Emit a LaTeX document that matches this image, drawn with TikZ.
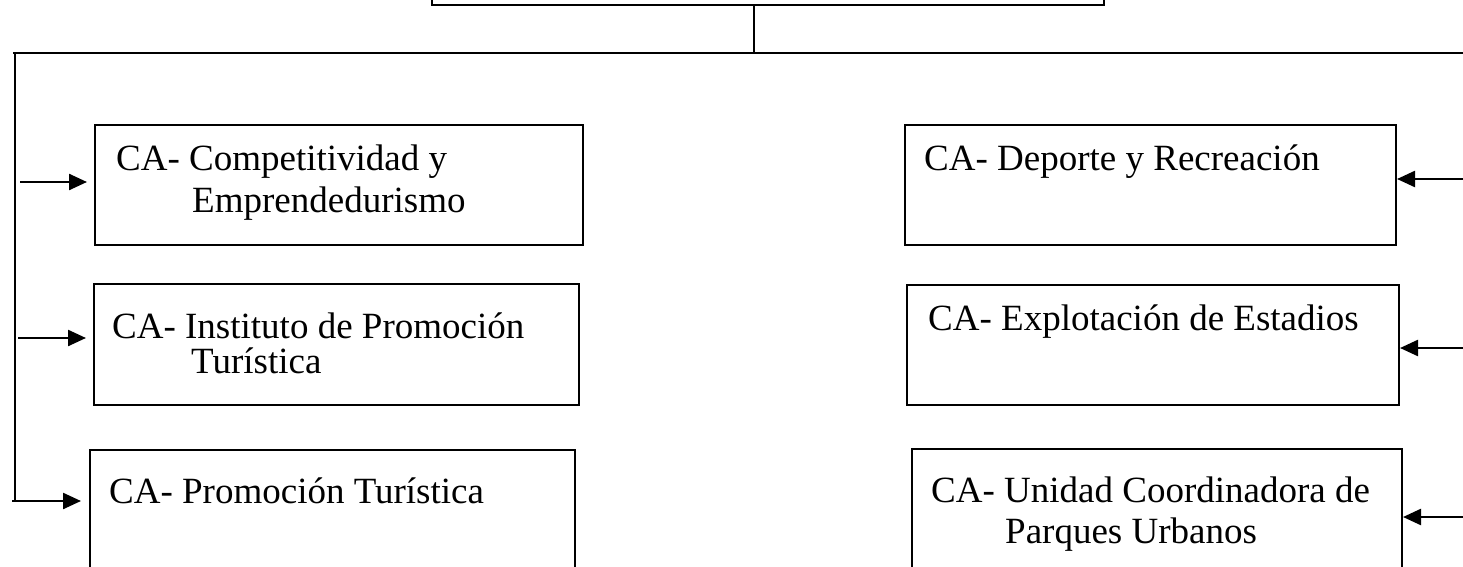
\documentclass[tikz,border=0pt]{standalone}
\usepackage{fontspec}
\setmainfont{Liberation Serif}
\usetikzlibrary{arrows.meta}

\tikzset{
  cabox/.style={draw,line width=2pt,rectangle,inner sep=0pt},
  caline/.style={anchor=base west,inner sep=0pt,font=\fontsize{37}{42}\selectfont},
  feed/.style={line width=2.4pt,-{Triangle[length=18pt,width=16pt]}},
  bus/.style={line width=2.2pt},
}

\begin{document}
\begin{tikzpicture}[x=1pt,y=-1pt]
\clip (0,0) rectangle (1463,567);
\useasboundingbox (0,0) rectangle (1463,567);

% Head box (cut by the top edge)
\node[cabox,minimum width=672pt,minimum height=80pt] (head) at (768,-35) {};

% Bus lines
\coordinate (busL) at (13,53);
\coordinate (busR) at (1475,53);
\coordinate (stem) at (754,53);
\coordinate (trunkL) at (15,501);
\draw[bus] (stem |- head.south) -- (stem);
\draw[bus] (busL) -- (busR);
\draw[bus] (trunkL |- busL) -- (trunkL);

% Left boxes
\node[cabox,minimum width=488pt,minimum height=120pt] (comp) at (339,185) {};
\node[cabox,minimum width=485pt,minimum height=121pt] (inst) at (336.5,344.5) {};
\node[cabox,minimum width=485pt,minimum height=170pt] (prom) at (332.5,535) {};

\node[caline] (comp-a) at (116,170) {CA- Competitividad y};
\node[caline] (comp-b) at (192,212) {Emprendedurismo};
\node[caline] (inst-a) at (112,338) {CA- Instituto de Promoción};
\node[caline] (inst-b) at (191,373) {Turística};
\node[caline] (prom-a) at (109,503) {CA- Promoción Turística};

% Right boxes
\node[cabox,minimum width=491pt,minimum height=120pt] (dep) at (1150.5,185) {};
\node[cabox,minimum width=492pt,minimum height=120pt] (expl) at (1153,345) {};
\node[cabox,minimum width=490pt,minimum height=171pt] (parq) at (1157,534.5) {};

\node[caline] (dep-a) at (924,170) {CA- Deporte y Recreación};
\node[caline] (expl-a) at (928,330) {CA- Explotación de Estadios};
\node[caline] (parq-a) at (931,502) {CA- Unidad Coordinadora de};
\node[caline] (parq-b) at (1005,543) {Parques Urbanos};

% Left feeds
\coordinate (l1) at (20,182);
\coordinate (l2) at (18,338);
\coordinate (l3) at (12,501);
\draw[feed,shorten >=7pt] (l1) -- (l1 -| comp.west);
\draw[feed,shorten >=7pt] (l2) -- (l2 -| inst.west);
\draw[feed,shorten >=8pt] (l3) -- (l3 -| prom.west);

% Right feeds
\coordinate (r1) at (1475,179);
\coordinate (r2) at (1475,348);
\coordinate (r3) at (1475,517);
\draw[feed] (r1) -- (r1 -| dep.east);
\draw[feed] (r2) -- (r2 -| expl.east);
\draw[feed] (r3) -- (r3 -| parq.east);

\end{tikzpicture}
\end{document}
